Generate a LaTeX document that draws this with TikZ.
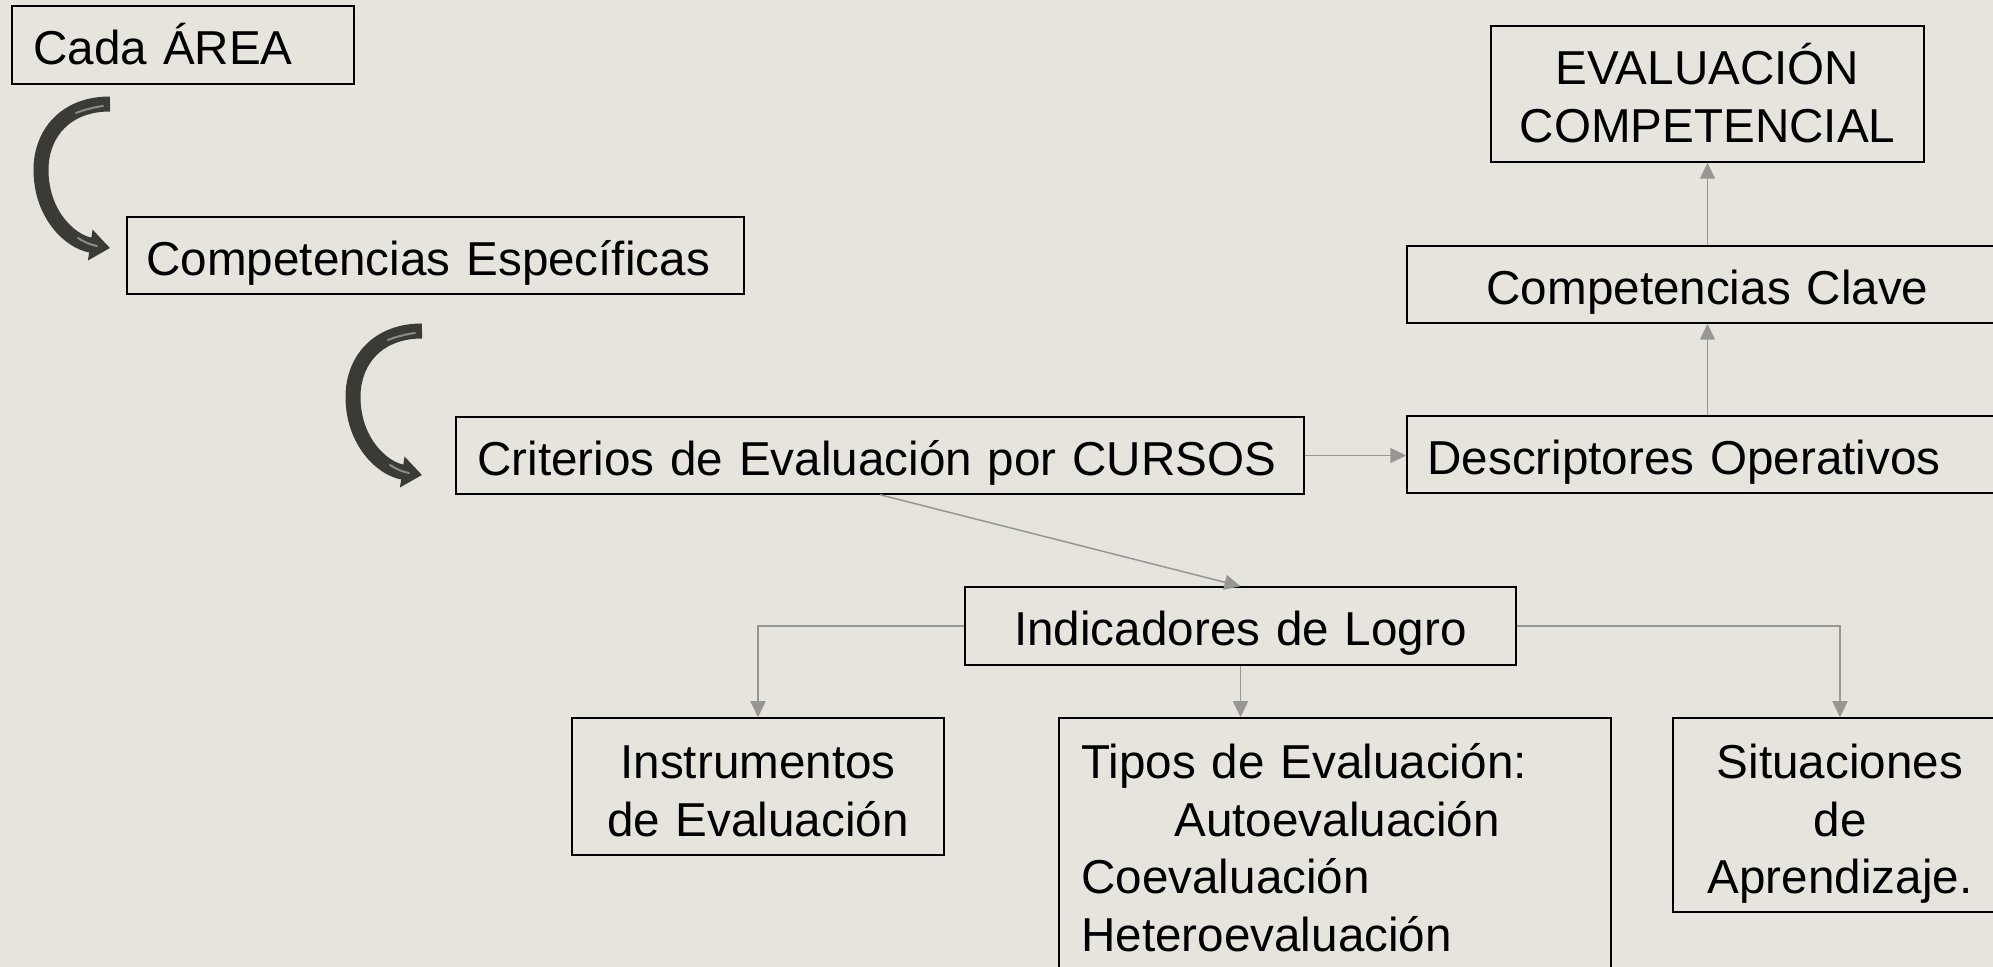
\documentclass[tikz,border=0pt]{standalone}
\usepackage{fontspec}
\setmainfont{Liberation Sans}
\usetikzlibrary{arrows.meta,calc}
\definecolor{bgcol}{RGB}{231,228,222}
\definecolor{linecol}{RGB}{150,151,146}
\definecolor{curvcol}{RGB}{59,59,54}
\definecolor{curvhl}{RGB}{140,140,134}
\begin{document}
\begin{tikzpicture}[x=0.5pt,y=-0.5pt,
  box/.style={draw=black,line width=0.75pt,inner sep=0pt,rectangle},
  txt/.style={inner sep=0pt,font=\fontsize{23.8}{29}\selectfont},
  ltxt/.style={txt,anchor=base west,text width=400pt,align=left},
  ctxt/.style={txt,anchor=base,text width=250pt,align=center},
  conn/.style={draw=linecol,line width=0.75pt,-{Triangle[length=8pt,width=7.5pt]}},
  curv/.style={draw=curvcol,line width=7.5pt,line cap=butt,-{Triangle[length=10pt,width=15pt]}},
  hl/.style={draw=curvhl,line width=1pt,line cap=round},
  curvarrow/.pic={
    \draw[curv] (0,0) .. controls (-45,0) and (-69,30) .. (-69,66) .. controls (-69,110) and (-40,138) .. (0,144);
    \draw[hl] (-34,9) .. controls (-24,5) and (-14,3) .. (-7,2);
    \draw[hl] (-32,134) .. controls (-26,138) and (-19,141) .. (-13,142);
  }
]
\useasboundingbox (0,0) rectangle (1993,967);
\clip (0,0) rectangle (1993,967);
\fill[bgcol] (0,0) rectangle (1993,967);

% boxes
\node[box,minimum width=171pt,minimum height=39pt] (A) at (183,45) {};
\node[box,minimum width=308.5pt,minimum height=38.5pt] (B) at (435.5,255.5) {};
\node[box,minimum width=424pt,minimum height=38.5pt] (C) at (880,455.5) {};
\node[box,minimum width=310pt,minimum height=38.5pt] (D) at (1717,454.5) {};
\node[box,minimum width=301.5pt,minimum height=38.5pt] (E) at (1708.5,284.5) {};
\node[box,minimum width=216.5pt,minimum height=68pt] (F) at (1707.5,94) {};
\node[box,minimum width=275.5pt,minimum height=39pt] (G) at (1240.5,626) {};
\node[box,minimum width=186pt,minimum height=68.5pt] (H) at (758,786.5) {};
\node[box,minimum width=276pt,minimum height=130pt] (I) at (1335,848) {};
\node[box,minimum width=167pt,minimum height=97pt] (J) at (1840,815) {};

% texts
\node[ltxt] (At) at (33,65) {Cada ÁREA};
\node[ltxt] (Bt) at (146,276) {Competencias Específicas};
\node[ltxt] (Ct) at (477,476) {Criterios de Evaluación por CURSOS};
\node[ltxt] (Dt) at (1427,475) {Descriptores Operativos};
\node[ctxt] (Et) at (1707.5,305) {Competencias Clave};
\node[ctxt] (Ft) at (1707.5,85) {EVALUACIÓN\\COMPETENCIAL};
\node[ctxt] (Gt) at (1240.5,646) {Indicadores de Logro};
\node[ctxt] (Ht) at (758,778) {Instrumentos\\de Evaluación};
\node[ltxt] (It) at (1081,778) {Tipos de Evaluación:\\\hspace*{46.5pt}Autoevaluación\\Coevaluación\\Heteroevaluación};
\node[ctxt] (Jt) at (1840,778) {Situaciones\\de\\Aprendizaje.};

% curved arrows
\pic at (110,104) {curvarrow};
\pic at (422,331) {curvarrow};

% connectors
\draw[conn] (C.east) -- (C.east -| D.west);
\draw[conn] (D.north -| F.south) -- (E.south -| F.south);
\draw[conn] (E.north -| F.south) -- (F.south);
\draw[conn] (C.south) -- (G.north);
\draw[conn] (G.west) -| (H.north);
\draw[conn] (G.south) -- (G.south |- I.north);
\draw[conn] (G.east) -| (J.north);
\end{tikzpicture}
\end{document}
